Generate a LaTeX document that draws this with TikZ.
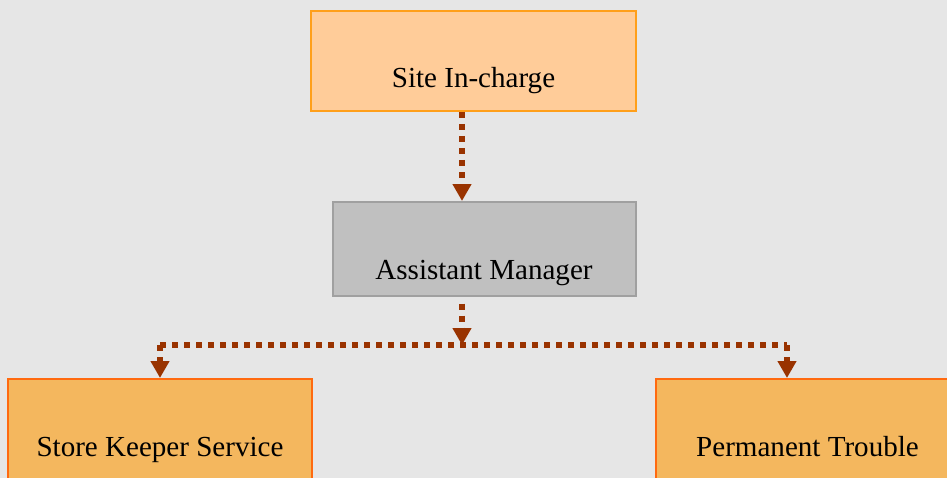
\documentclass[tikz,border=0pt]{standalone}
\usepackage{fontspec}
\setmainfont{Liberation Serif}
\usetikzlibrary{arrows.meta}
\definecolor{backdrop}{HTML}{E6E6E6}
\definecolor{peach}{HTML}{FFCC99}
\definecolor{peachline}{HTML}{FF9F1A}
\definecolor{silver}{HTML}{C0C0C0}
\definecolor{silverline}{HTML}{A0A0A0}
\definecolor{amber}{HTML}{F4B75E}
\definecolor{amberline}{HTML}{FF6A10}
\definecolor{brick}{HTML}{993300}
\tikzstyle{post} = [rectangle, inner sep=0pt, line width=1.5pt, font=\fontsize{21.8}{26}\selectfont, text height=57.75pt, text depth=17.25pt, text centered]
\tikzstyle{lead} = [post, fill=peach, draw=peachline, minimum width=243.75pt]
\tikzstyle{deputy} = [post, fill=silver, draw=silverline, minimum width=227.25pt, text depth=12.75pt]
\tikzstyle{staff} = [post, fill=amber, draw=amberline, minimum width=228pt]
\tikzstyle{link} = [line width=4.5pt, draw=brick, dash pattern=on 4.5pt off 4.5pt]
\tikzstyle{arrow} = [link, -{Triangle[length=12.75pt, width=13.5pt, fill=brick]}]

\begin{document}
\begin{tikzpicture}[x=0.75pt, y=-0.75pt]
    \fill [backdrop] (0,0) rectangle (947,478);
    \useasboundingbox (0,0) rectangle (947,478);
    \node (chief) [lead] at (473.5,61) {Site In-charge};
    \node (manager) [deputy] at (484,249) {Assistant Manager};
    \node (keeper) [staff] at (160,429) {Store Keeper Service};
    \node (trouble) [staff] at (807.5,429) {Permanent Trouble};

    \coordinate (bus) at (462,345);
    \coordinate (busleft) at (160,345);
    \coordinate (busright) at (787,345);

    \draw [arrow] (chief.south -| bus) -- (manager.north -| bus);
    \draw [arrow] ([yshift=-5pt]manager.south -| bus) -- (bus);
    \draw [link] (busleft) -- (busright);
    \draw [arrow] (busleft) -- (keeper.north -| busleft);
    \draw [arrow] (busright) -- (trouble.north -| busright);
  \end{tikzpicture}
\end{document}
